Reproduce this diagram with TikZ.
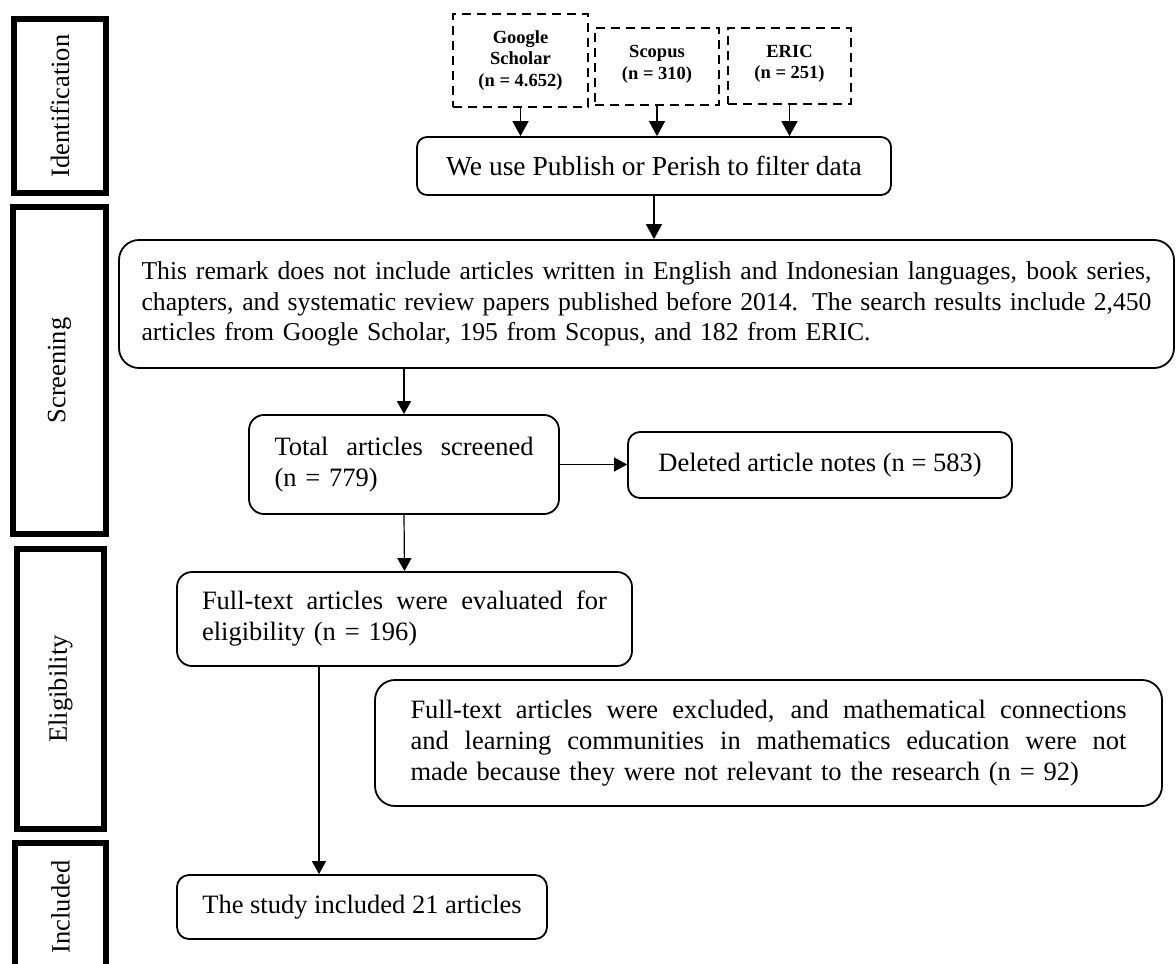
\documentclass[tikz,border=0pt]{standalone}
\usepackage{fontspec}
\setmainfont{Liberation Serif}
\usetikzlibrary{arrows.meta}
\newcommand\jl[2]{\makebox[#1][s]{\spaceskip=0pt\xspaceskip=0pt #2}}
\begin{document}
\begin{tikzpicture}[x=1pt,y=-1pt,
  stage/.style={draw, line width=6pt, rotate=90, font=\fontsize{26.5}{31}\selectfont, inner sep=0pt},
  src/.style={draw, dash pattern=on 9pt off 6pt, line width=2pt, font=\fontsize{18.5}{21.7}\selectfont\bfseries, align=center, inner sep=0pt},
  box/.style={draw, rounded corners=12pt, line width=1.8pt, font=\fontsize{26.5}{31}\selectfont, inner sep=0pt},
  arr/.style={line width=1.5pt, -{Triangle[length=13pt,width=14pt]}},
  bigarr/.style={line width=1.7pt, -{Triangle[length=15pt,width=16pt]}}]
\clip (0,0) rectangle (1176,964);
% stage boxes
\node[stage, minimum width=174pt, minimum height=92pt] (sid) at (60,106) {Identification};
\node[stage, minimum width=327pt, minimum height=93pt] (ssc) at (59.5,370.5) {Screening};
\node[stage, minimum width=280pt, minimum height=87pt] (sel) at (60.5,689) {Eligibility};
\node[stage, minimum width=128pt, minimum height=91pt] (sin) at (60.5,907) {Included};
% sources
\node[src, minimum width=135pt, minimum height=93pt] (gs) at (520.5,60.5) {Google\\Scholar\\(n = 4.652)};
\node[src, minimum width=124pt, minimum height=77pt] (sc) at (657,66.5) {Scopus\\(n = 310)\\[-13.7pt]};
\node[src, minimum width=123pt, minimum height=76pt] (er) at (789.5,66) {ERIC\\(n = 251)\\[-13.7pt]};
% flow boxes
\node[box, rounded corners=10pt, minimum width=474pt, minimum height=58pt, font=\fontsize{27.5}{32}\selectfont] (pub) at (654,166) {We use Publish or Perish to filter data};
\node[box, rounded corners=20pt, minimum width=1055pt, minimum height=128pt, text width=1010pt, align=left, font=\fontsize{25.7}{30.7}\selectfont] (scr) at (646.5,304) {\jl{1010pt}{This remark does not include articles written in English and Indonesian languages, book series,}\\
\jl{1010pt}{chapters, and systematic review papers published before 2014. The search results include 2,450}\\
articles from Google Scholar, 195 from Scopus, and 182 from ERIC.};
\node[box, rounded corners=15pt, minimum width=310pt, minimum height=99pt, text width=259pt, align=left] (tot) at (404,464.5) {\jl{259pt}{Total articles screened}\\(n = 779)};
\node[box, minimum width=384pt, minimum height=66pt] (del) at (820,465) {Deleted article notes (n = 583)};
\node[box, rounded corners=15pt, minimum width=455pt, minimum height=94pt, text width=405pt, align=left] (elg) at (404.5,619) {\jl{405pt}{Full-text articles were evaluated for}\\eligibility (n = 196)};
\node[box, rounded corners=20pt, minimum width=787pt, minimum height=126pt, text width=716pt, align=left] (exc) at (768.5,743) {\jl{716pt}{Full-text articles were excluded, and mathematical connections}\\
\jl{716pt}{and learning communities in mathematics education were not}\\
made because they were not relevant to the research (n = 92)};
\node[box, minimum width=370pt, minimum height=64pt] (inc) at (362,907) {The study included 21 articles};
% connectors
\coordinate (xl) at (319,0);
\draw[bigarr] (gs.south) -- (gs.south |- pub.north);
\draw[bigarr] (sc.south) -- (sc.south |- pub.north);
\draw[bigarr] (er.south) -- (er.south |- pub.north);
\draw[bigarr] (pub.south) -- (pub.south |- scr.north);
\draw[arr] (scr.south -| tot.north) -- (tot.north);
\draw[arr, line width=1.2pt] (tot.east) -- (tot.east -| del.west);
\draw[arr, line width=1.2pt] (tot.south) -- (elg.north);
\draw[arr] (elg.south -| xl) -- (inc.north -| xl);
\end{tikzpicture}
\end{document}
